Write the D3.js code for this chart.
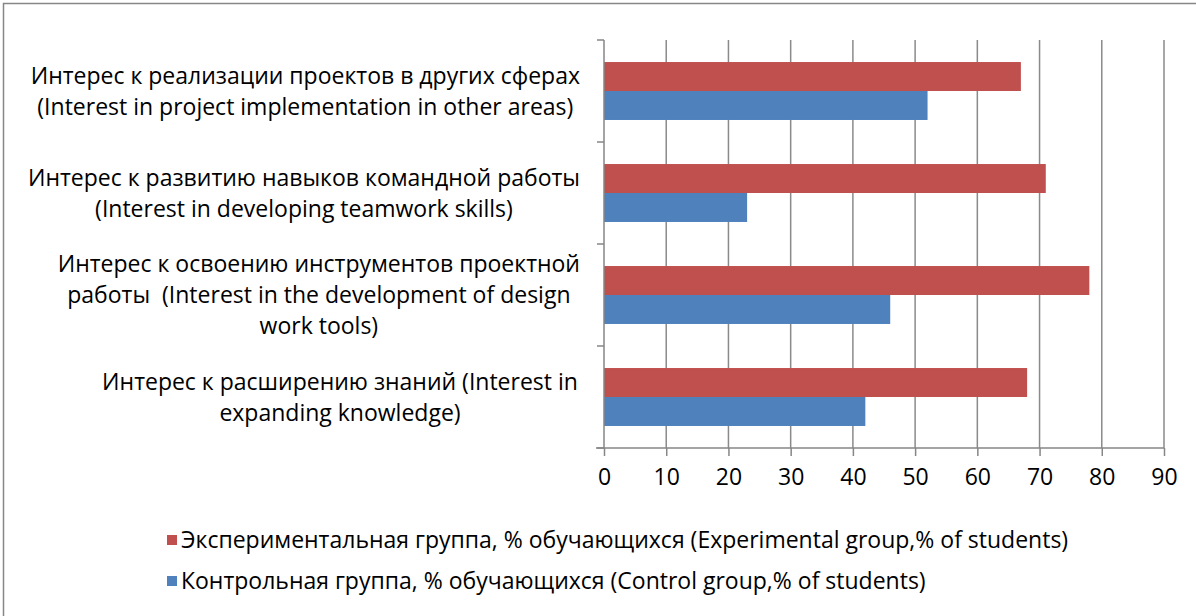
<!DOCTYPE html>
<html>
<head>
<meta charset="utf-8">
<script src="https://cdn.jsdelivr.net/npm/d3@7"></script>
<style>
  body { margin: 0; background: #fff; }
  text { font-family: "Open Sans", sans-serif; fill: #000; }
</style>
</head>
<body>
<div id="chart"></div>
<script>
// categories top to bottom, each label split in the lines shown on the chart
const categories = ["project", "teamwork", "tools", "knowledge"];
const categoryLines = [
    ["Интерес к реализации проектов в других сферах", "(Interest in project implementation in other areas)"],
    ["Интерес к развитию навыков командной работы", "(Interest in developing teamwork skills)"],
    ["Интерес к освоению инструментов проектной", "работы  (Interest in the development of design", "work tools)"],
    ["Интерес к расширению знаний (Interest in", "expanding knowledge)"]
];
const experimental = [67, 71, 78, 68];
const control = [52, 23, 46, 42];
const seriesNames = [
    "Экспериментальная группа, % обучающихся (Experimental group,% of students)",
    "Контрольная группа, % обучающихся (Control group,% of students)"
];
const xTicks = [0, 10, 20, 30, 40, 50, 60, 70, 80, 90];

const width = 1196, height = 616;
const plot = { left: 604, right: 1164, top: 40, bottom: 448 };
const colors = ["#C0504D", "#4F81BD"];
const fontSize = 23;

const svg = d3.select("#chart")
    .append("svg")
    .attr("width", width)
    .attr("height", height);

// chart frame (only top and left edges fall inside the picture)
svg.append("rect")
    .attr("x", 3.5).attr("y", 3.5)
    .attr("width", 1200).attr("height", 700)
    .attr("fill", "none")
    .attr("stroke", "#868686")
    .attr("stroke-width", 1.5);

const xScale = d3.scaleLinear()
    .domain([0, 90])
    .range([plot.left, plot.right]);

const yScale = d3.scaleBand()
    .domain(categories)
    .range([plot.top, plot.bottom])
    .padding(0);

const ySub = d3.scaleBand()
    .domain(["exp", "ctrl"])
    .range([0, yScale.bandwidth()])
    .paddingInner(0)
    .paddingOuter(0.76);

// vertical gridlines
svg.append("g")
    .selectAll("line")
    .data(xTicks.slice(1))
    .join("line")
    .attr("x1", d => xScale(d)).attr("x2", d => xScale(d))
    .attr("y1", plot.top).attr("y2", plot.bottom)
    .attr("stroke", "#8a8a8a")
    .attr("stroke-width", 1.5);

// bars
const rows = categories.map((c, i) => ({ cat: c, exp: experimental[i], ctrl: control[i] }));
const groups = svg.append("g")
    .selectAll("g")
    .data(rows)
    .join("g")
    .attr("transform", d => `translate(0, ${yScale(d.cat)})`);

groups.selectAll("rect")
    .data(d => [{ key: "exp", v: d.exp }, { key: "ctrl", v: d.ctrl }])
    .join("rect")
    .attr("x", xScale(0))
    .attr("y", d => ySub(d.key))
    .attr("width", d => xScale(d.v) - xScale(0))
    .attr("height", ySub.bandwidth())
    .attr("fill", (d, i) => colors[i]);

// y axis line and ticks at category boundaries
const axisColor = "#868686";
svg.append("line")
    .attr("x1", plot.left).attr("x2", plot.left)
    .attr("y1", plot.top).attr("y2", plot.bottom)
    .attr("stroke", axisColor).attr("stroke-width", 1.5);

const bounds = categories.map(c => yScale(c)).concat([plot.bottom]);
svg.append("g")
    .selectAll("line")
    .data(bounds)
    .join("line")
    .attr("x1", plot.left - 7).attr("x2", plot.left)
    .attr("y1", d => d).attr("y2", d => d)
    .attr("stroke", axisColor).attr("stroke-width", 1.5);

// x axis
const xAxis = svg.append("g")
    .attr("transform", `translate(0, ${plot.bottom})`)
    .call(d3.axisBottom(xScale).tickValues(xTicks).tickSize(8).tickPadding(13).tickSizeOuter(0));

xAxis.select(".domain")
    .attr("d", `M${plot.left - 8},0H${plot.right}`)
    .attr("stroke", axisColor).attr("stroke-width", 1.5);
xAxis.selectAll(".tick line")
    .attr("stroke", axisColor).attr("stroke-width", 1.5);
xAxis.selectAll(".tick text")
    .attr("font-family", "Open Sans")
    .attr("font-size", fontSize)
    .attr("fill", "#000");

// category labels, lines centred in a block that sits left of the axis
const lineHeight = 31;
const labelRight = 580, labelCenter = 340;
categoryLines.forEach((lines, i) => {
    const cy = yScale(categories[i]) + yScale.bandwidth() / 2;
    const g = svg.append("g");
    const texts = g.selectAll("text")
        .data(lines)
        .join("text")
        .attr("xml:space", "preserve")
        .attr("y", (d, j) => cy + (j - (lines.length - 1) / 2) * lineHeight)
        .attr("dy", "0.35em")
        .attr("text-anchor", "middle")
        .style("font-size", fontSize + "px")
        .text(d => d);
    const maxW = d3.max(texts.nodes(), n => n.getComputedTextLength());
    texts.attr("x", Math.min(labelCenter, labelRight - maxW / 2));
});

// legend
const legendY = [540, 581];
seriesNames.forEach((name, i) => {
    svg.append("rect")
        .attr("x", 167).attr("y", legendY[i] - 5)
        .attr("width", 10).attr("height", 10)
        .attr("fill", colors[i]);
    svg.append("text")
        .attr("x", 181).attr("y", legendY[i])
        .attr("dy", "0.35em")
        .style("font-size", fontSize + "px")
        .text(name);
});
</script>
</body>
</html>
